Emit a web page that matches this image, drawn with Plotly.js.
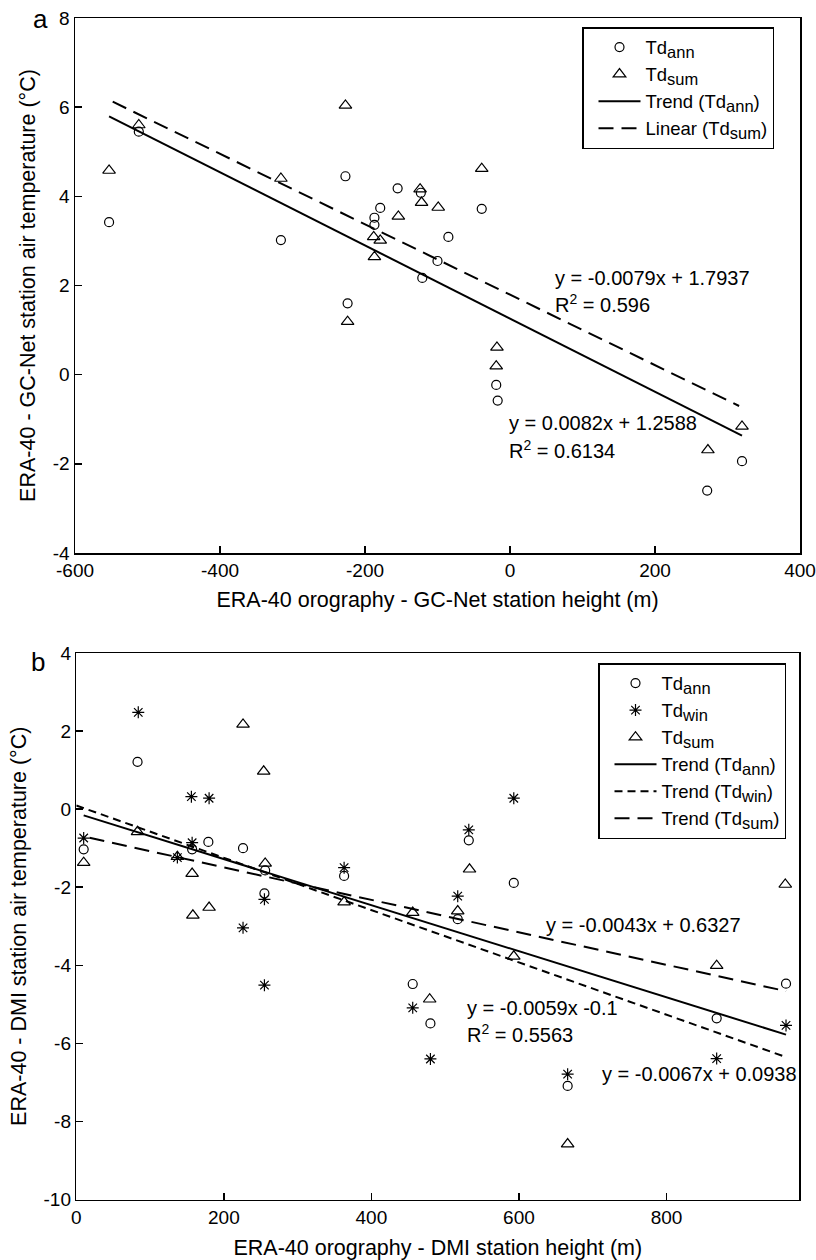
<!DOCTYPE html>
<html>
<head>
<meta charset="utf-8">
<script src="https://cdn.plot.ly/plotly-3.0.1.min.js"></script>
<style>html,body{margin:0;padding:0;background:#fff;}#chart{width:816px;height:1260px;}</style>
</head>
<body>
<div id="chart"></div>
<script>
// ---------- Panel a: GC-Net ----------
const aAnnX = [-553, -512, -316, -227, -155, -123, -179, -187, -187, -85, -100, -121, -224, -39, -19, -17, 320, 272];
const aAnnY = [3.42, 5.45, 3.02, 4.45, 4.18, 4.08, 3.74, 3.52, 3.36, 3.09, 2.55, 2.17, 1.60, 3.72, -0.23, -0.58, -1.94, -2.60];
const aSumX = [-553, -512, -316, -227, -124, -122, -99, -154, -188, -179, -187, -224, -39, -18, -19, 320, 273];
const aSumY = [4.58, 5.60, 4.40, 6.04, 4.16, 3.86, 3.75, 3.55, 3.09, 3.01, 2.64, 1.19, 4.62, 0.61, 0.19, -1.16, -1.69];
// trend lines: [slope, intercept, xStart, xEnd]
const aTrendAnn = [-0.0082, 1.2588, -553, 320];
const aTrendSum = [-0.0079, 1.7937, -548, 316];
const aXTicks = [-600, -400, -200, 0, 200, 400];
const aYTicks = [-4, -2, 0, 2, 4, 6, 8];

// ---------- Panel b: DMI ----------
const bAnnX = [10, 83, 157, 179, 226, 256, 255, 363, 456, 480, 517, 532, 593, 666, 868, 962];
const bAnnY = [-1.03, 1.21, -1.03, -0.84, -1.00, -1.57, -2.16, -1.71, -4.48, -5.49, -2.82, -0.80, -1.89, -7.09, -5.36, -4.47];
const bWinX = [10, 84, 137, 156, 157, 180, 226, 255, 255, 363, 456, 480, 517, 532, 593, 666, 868, 962];
const bWinY = [-0.74, 2.48, -1.24, 0.32, -0.86, 0.28, -3.04, -2.31, -4.51, -1.50, -5.09, -6.40, -2.23, -0.53, 0.28, -6.79, -6.39, -5.54];
const bSumX = [10, 83, 137, 157, 158, 180, 226, 254, 256, 363, 456, 479, 517, 533, 593, 666, 868, 961];
const bSumY = [-1.37, -0.58, -1.22, -1.65, -2.72, -2.52, 2.17, 0.97, -1.39, -2.38, -2.65, -4.87, -2.61, -1.54, -3.77, -8.58, -4.01, -1.93];
const bTrendAnn = [-0.0059, -0.1, 10, 962];
const bTrendWin = [-0.0067, 0.0938, 0, 962];
const bTrendSum = [-0.00416, -0.66, 18, 962];
const bXTicks = [0, 200, 400, 600, 800];
const bYTicks = [-10, -8, -6, -4, -2, 0, 2, 4];

// ---------- texts ----------
const aEqSum = ['y = -0.0079x + 1.7937', 'R<sup>2</sup> = 0.596'];
const aEqAnn = ['y = 0.0082x + 1.2588', 'R<sup>2</sup> = 0.6134'];
const bEqSum = 'y = -0.0043x + 0.6327';
const bEqAnn = ['y = -0.0059x -0.1', 'R<sup>2</sup> = 0.5563'];
const bEqWin = 'y = -0.0067x + 0.0938';

const FONT = 'Liberation Sans, Arial, Helvetica, sans-serif';
const W = 816, H = 1260;
const px = v => v / W;
const py = v => 1 - v / H;
const sub = s => '<sub><span style="font-size:16.5px">' + s + '</span></sub>';

function lineXY(t) {
  return { x: [t[2], t[3]], y: [t[0] * t[2] + t[1], t[0] * t[3] + t[1]] };
}
function markerTrace(x, y, name, sym, size, xa, ya, lg) {
  return { type: 'scatter', mode: 'markers', x: x, y: y, name: name, xaxis: xa, yaxis: ya, legend: lg,
    marker: { symbol: sym, size: size, color: 'black', line: { color: 'black', width: 1.2 } } };
}
function lineTrace(t, name, dash, xa, ya, lg) {
  const p = lineXY(t);
  return { type: 'scatter', mode: 'lines', x: p.x, y: p.y, name: name, xaxis: xa, yaxis: ya, legend: lg,
    line: { color: 'black', width: 2, dash: dash } };
}

const LONG = '15px,8px';
const SHORT = '8px,5px';

const data = [
  markerTrace(aAnnX, aAnnY, 'Td' + sub('ann'), 'circle-open', 9, 'x', 'y', 'legend'),
  markerTrace(aSumX, aSumY, 'Td' + sub('sum'), 'triangle-up-open', 11, 'x', 'y', 'legend'),
  lineTrace(aTrendAnn, 'Trend (Td' + sub('ann') + ')', 'solid', 'x', 'y', 'legend'),
  lineTrace(aTrendSum, 'Linear (Td' + sub('sum') + ')', LONG, 'x', 'y', 'legend'),
  markerTrace(bAnnX, bAnnY, 'Td' + sub('ann'), 'circle-open', 9, 'x2', 'y2', 'legend2'),
  markerTrace(bWinX, bWinY, 'Td' + sub('win'), 'asterisk-open', 10, 'x2', 'y2', 'legend2'),
  markerTrace(bSumX, bSumY, 'Td' + sub('sum'), 'triangle-up-open', 11, 'x2', 'y2', 'legend2'),
  lineTrace(bTrendAnn, 'Trend (Td' + sub('ann') + ')', 'solid', 'x2', 'y2', 'legend2'),
  lineTrace(bTrendWin, 'Trend (Td' + sub('win') + ')', SHORT, 'x2', 'y2', 'legend2'),
  lineTrace(bTrendSum, 'Trend (Td' + sub('sum') + ')', LONG, 'x2', 'y2', 'legend2')
];

function axis(ticks, extra) {
  return Object.assign({
    showline: true, mirror: true, linecolor: 'black', linewidth: 1.5,
    ticks: 'inside', ticklen: 7, tickwidth: 1.5, tickcolor: 'black',
    showgrid: false, zeroline: false, automargin: false,
    tickvals: ticks, ticktext: ticks.map(v => String(v)),
    tickfont: { family: FONT, size: 19, color: 'black' },
    fixedrange: true
  }, extra);
}
const titleFont = { family: FONT, size: 21.5, color: 'black' };

const legendBase = {
  xanchor: 'left', yanchor: 'top', bordercolor: 'black', borderwidth: 1.5,
  bgcolor: 'white', font: { family: FONT, size: 18.5, color: 'black' },
  itemwidth: 42, indentation: 10, traceorder: 'normal', tracegroupgap: 0
};

const layout = {
  width: W, height: H,
  margin: { l: 0, r: 0, t: 0, b: 0 },
  paper_bgcolor: 'white', plot_bgcolor: 'white',
  font: { family: FONT, size: 20, color: 'black' },
  showlegend: true,
  xaxis: axis(aXTicks, { domain: [px(75), px(800)], range: [aXTicks[0], aXTicks[aXTicks.length - 1]], anchor: 'y',
    title: { text: 'ERA-40 orography - GC-Net station height (m)', font: titleFont, standoff: 11 } }),
  yaxis: axis(aYTicks, { domain: [py(553), py(18)], range: [aYTicks[0], aYTicks[aYTicks.length - 1]], anchor: 'x',
    title: { text: 'ERA-40 - GC-Net station air temperature (°C)', font: titleFont, standoff: 11 } }),
  xaxis2: axis(bXTicks, { domain: [px(76.3), px(799.3)], range: [0, 980], anchor: 'y2',
    title: { text: 'ERA-40 orography - DMI station height (m)', font: titleFont, standoff: 13 } }),
  yaxis2: axis(bYTicks, { domain: [py(1199.5), py(653)], range: [bYTicks[0], bYTicks[bYTicks.length - 1]], anchor: 'x2',
    title: { text: 'ERA-40 - DMI station air temperature (°C)', font: titleFont, standoff: 11 } }),
  legend: Object.assign({ x: px(582), y: py(27) }, legendBase),
  legend2: Object.assign({ x: px(598), y: py(663) }, legendBase),
  annotations: []
};

function note(text, xpx, ypx, size, anchor) {
  layout.annotations.push({ text: text, xref: 'paper', yref: 'paper', x: px(xpx), y: py(ypx),
    xanchor: anchor || 'left', yanchor: 'middle', showarrow: false,
    font: { family: FONT, size: size || 20, color: 'black' } });
}
note(aEqSum[0], 553, 278);
note(aEqSum[1], 553, 303);
note(aEqAnn[0], 507, 423);
note(aEqAnn[1], 507, 449);
note(bEqSum, 544, 925);
note(bEqAnn[0], 465, 1008);
note(bEqAnn[1], 465, 1033);
note(bEqWin, 600, 1074);
note('a', 40, 19, 26, 'center');
note('b', 38, 662, 26, 'center');

Plotly.newPlot('chart', data, layout, { staticPlot: true, displayModeBar: false });
</script>
</body>
</html>
